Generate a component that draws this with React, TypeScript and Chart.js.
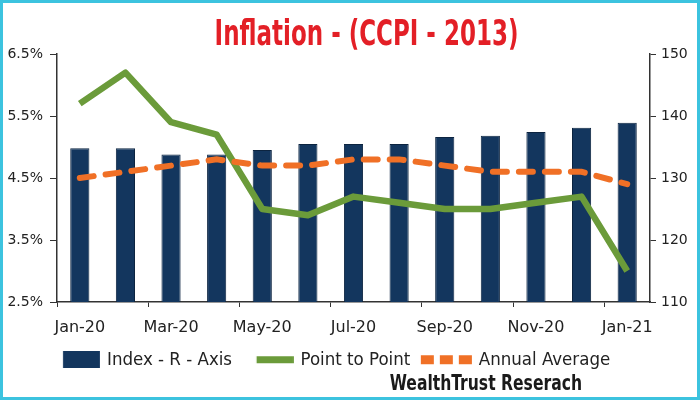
import React, { useEffect, useRef } from "react";
import { Chart, registerables } from "chart.js";

Chart.register(...registerables);

const categories = [
  "Jan-20", "Feb-20", "Mar-20", "Apr-20", "May-20", "Jun-20", "Jul-20",
  "Aug-20", "Sep-20", "Oct-20", "Nov-20", "Dec-20", "Jan-21",
];
const indexValues = [134.8, 134.8, 133.8, 133.8, 134.5, 135.5, 135.5, 135.5, 136.6, 136.8, 137.4, 138.1, 138.9];
const pointToPoint = [5.7, 6.2, 5.4, 5.2, 4.0, 3.9, 4.2, 4.1, 4.0, 4.0, 4.1, 4.2, 3.0];
const annualAverage = [4.5, 4.6, 4.7, 4.8, 4.7, 4.7, 4.8, 4.8, 4.7, 4.6, 4.6, 4.6, 4.4];
const leftTicks = [2.5, 3.5, 4.5, 5.5, 6.5];
const rightTicks = [110, 120, 130, 140, 150];
const seriesNames = ["Index - R - Axis", "Point to Point", "Annual Average"];
const titleText = "Inflation - (CCPI - 2013)";
const sourceText = "WealthTrust Reserach";

const NAVY = "#13365e";
const GREEN = "#6b9b3a";
const ORANGE = "#f07026";
const RED = "#e31f26";
const AXIS = "#333333";
const COND = '"DejaVu Sans Condensed", "DejaVu Sans", sans-serif';

function makeMarker(kind: string, color: string): HTMLCanvasElement {
  const c = document.createElement("canvas");
  c.width = 54;
  c.height = 17;
  const g = c.getContext("2d")!;
  g.fillStyle = color;
  const end = 53.9;
  if (kind === "bar") {
    g.fillRect(end - 37, 0, 37, 17);
  } else if (kind === "line") {
    g.fillRect(end - 37, 5, 37, 7);
  } else {
    for (let k = 0; k < 3; k++) g.fillRect(end - 51 + k * 19, 4, 13, 9);
  }
  return c;
}

const textPlugin = {
  id: "textPlugin",
  afterLayout(chart: any) {
    const lg = chart.legend;
    if (lg) {
      lg.left -= 18.5;
      lg.right -= 18.5;
    }
  },
  afterDraw(chart: any) {
    const ctx = chart.ctx;
    const area = chart.chartArea;
    ctx.save();
    ctx.fillStyle = RED;
    ctx.font = `bold 36px ${COND}`;
    ctx.textAlign = "center";
    ctx.textBaseline = "alphabetic";
    ctx.translate((area.left + area.right) / 2 + 13, 42);
    ctx.scale(0.71, 1);
    ctx.fillText(titleText, 0, 0);
    ctx.restore();

    ctx.save();
    ctx.fillStyle = "#1a1a1a";
    ctx.font = `bold 21px ${COND}`;
    ctx.textAlign = "right";
    ctx.textBaseline = "alphabetic";
    ctx.translate(area.left + 525, 387);
    ctx.scale(0.825, 1);
    ctx.fillText(sourceText, 0, 0);
    ctx.restore();
  },
};

export default function App() {
  const ref = useRef<HTMLCanvasElement | null>(null);

  useEffect(() => {
    const canvas = ref.current;
    if (!canvas) return;
    const markers = [makeMarker("bar", NAVY), makeMarker("line", GREEN), makeMarker("dash", ORANGE)];

    const chart = new Chart(canvas, {
      type: "bar",
      data: {
        labels: categories,
        datasets: [
          {
            type: "bar",
            label: seriesNames[0],
            data: indexValues,
            yAxisID: "y1",
            backgroundColor: NAVY,
            borderColor: "#0c2440",
            borderWidth: 1,
            barPercentage: 0.42,
            categoryPercentage: 1,
            order: 2,
          } as any,
          {
            type: "line",
            label: seriesNames[1],
            data: pointToPoint,
            yAxisID: "y",
            borderColor: GREEN,
            backgroundColor: GREEN,
            borderWidth: 6.5,
            pointRadius: 0,
            tension: 0,
            borderJoinStyle: "round",
            order: 1,
          } as any,
          {
            type: "line",
            label: seriesNames[2],
            data: annualAverage,
            yAxisID: "y",
            borderColor: ORANGE,
            backgroundColor: ORANGE,
            borderWidth: 6,
            borderDash: [14, 12],
            borderCapStyle: "round",
            pointRadius: 0,
            tension: 0,
            order: 0,
          } as any,
        ],
      },
      options: {
        responsive: false,
        animation: false,
        devicePixelRatio: 1,
        layout: { padding: { left: 0, right: 0, top: 51, bottom: 18 } },
        plugins: {
          title: { display: false },
          tooltip: { enabled: false },
          legend: {
            position: "bottom",
            align: "start",
            fullSize: false,
            labels: {
              usePointStyle: true,
              pointStyleWidth: 49.25,
              padding: 10,
              color: "#222",
              font: { family: COND, size: 18.5 },
              sort: (a: any, b: any) => a.datasetIndex - b.datasetIndex,
              generateLabels: (chart: any) =>
                chart.data.datasets.map((ds: any, i: number) => ({
                  text: ds.label,
                  datasetIndex: i,
                  pointStyle: markers[i],
                  fillStyle: "transparent",
                  strokeStyle: "transparent",
                  lineWidth: 0,
                  hidden: false,
                  fontColor: "#222",
                })),
            },
          },
        },
        scales: {
          x: {
            offset: true,
            afterFit: (s: any) => { s.height = 38.5; },
            border: { display: true, color: AXIS, width: 1.5 },
            grid: {
              offset: true,
              drawOnChartArea: false,
              drawTicks: true,
              tickLength: 5,
              color: (c: any) => (typeof c.index === "number" && c.index % 2 === 0 ? AXIS : "transparent"),
            },
            ticks: {
              autoSkip: false,
              maxRotation: 0,
              padding: 11,
              color: "#222",
              font: { family: "DejaVu Sans", size: 16 },
              callback: (_v: any, i: number) => (i % 2 === 0 ? categories[i] : ""),
            },
          },
          y: {
            position: "left",
            min: 2.5,
            max: 6.5,
            afterFit: (s: any) => { s.width = 54; },
            afterBuildTicks: (s: any) => { s.ticks = leftTicks.map((v) => ({ value: v })); },
            border: { display: true, color: AXIS, width: 1.5 },
            grid: { drawOnChartArea: false, drawTicks: true, tickLength: 7, color: AXIS },
            ticks: {
              padding: 7,
              color: "#222",
              font: { family: "DejaVu Sans", size: 14 },
              callback: (v: any) => Number(v).toFixed(1) + "%",
            },
          },
          y1: {
            position: "right",
            min: 110,
            max: 150,
            afterFit: (s: any) => { s.width = 47; },
            afterBuildTicks: (s: any) => { s.ticks = rightTicks.map((v) => ({ value: v })); },
            border: { display: true, color: AXIS, width: 1.5 },
            grid: { drawOnChartArea: false, drawTicks: true, tickLength: 6, color: AXIS },
            ticks: {
              padding: 5,
              color: "#222",
              font: { family: "DejaVu Sans", size: 14 },
              callback: (v: any) => String(v),
            },
          },
        },
      },
      plugins: [textPlugin],
    } as any);

    return () => chart.destroy();
  }, []);

  return (
    <div
      style={{
        position: "fixed",
        left: 0,
        top: 0,
        width: 700,
        height: 400,
        boxSizing: "border-box",
        border: "3px solid #3cc3df",
        background: "#ffffff",
      }}
    >
      <canvas ref={ref} width={694} height={394} style={{ display: "block", width: 694, height: 394 }} />
    </div>
  );
}
